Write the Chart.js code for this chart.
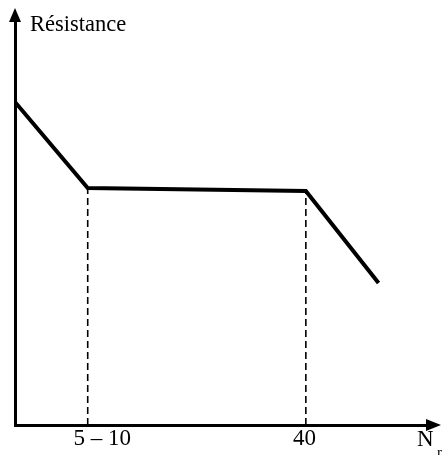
<!DOCTYPE html>
<html>
<head>
<meta charset="utf-8">
<script src="https://cdn.jsdelivr.net/npm/chart.js@4"></script>
<style>
  html, body { margin: 0; padding: 0; background: #fff; }
  #chart { display: block; }
</style>
</head>
<body>
<canvas id="chart" width="444" height="455"></canvas>
<script>
// resistance curve (arbitrary units)
const xValues = [0, 10, 40, 50];
const resistance = [3.23, 2.37, 2.34, 1.42];

// dashed guides down to the axis
const guideX = [10, 40];
const guideTop = [2.37, 2.34];

// axis labels
const tickPositions = [12, 39.8];
const tickLabels = ['5 \u2013 10', '40'];
const yTitle = 'Résistance';
const xTitle = 'N';
const xTitleSub = 'r';

const serif = '"Liberation Serif", "DejaVu Serif", serif';

const guideSets = guideX.map(function(x, i) {
    return {
        data: [{ x: x, y: 0 }, { x: x, y: guideTop[i] }],
        borderColor: '#000',
        borderWidth: 1.6,
        borderDash: [7, 4],
        pointRadius: 0,
        fill: false
    };
});

const arrowsAndText = {
    id: 'arrowsAndText',
    afterDraw: function(chart) {
        const ctx = chart.ctx;
        const area = chart.chartArea;
        const x0 = chart.scales.x.left;
        const y0 = chart.scales.x.top;
        ctx.save();
        ctx.fillStyle = '#000';
        // y arrow
        ctx.beginPath();
        ctx.moveTo(x0 - 6, area.top + 2);
        ctx.lineTo(x0 + 6, area.top + 2);
        ctx.lineTo(x0, area.top - 12);
        ctx.closePath();
        ctx.fill();
        // x arrow
        ctx.beginPath();
        ctx.moveTo(area.right - 2, y0 - 6);
        ctx.lineTo(area.right - 2, y0 + 6);
        ctx.lineTo(area.right + 13, y0);
        ctx.closePath();
        ctx.fill();

        ctx.textBaseline = 'alphabetic';
        ctx.textAlign = 'left';
        ctx.font = '22.5px ' + serif;
        ctx.fillText(yTitle, 30, 31);
        ctx.font = '23px ' + serif;
        ctx.fillText(xTitle, 417, 446);
        ctx.font = '15px ' + serif;
        ctx.fillText(xTitleSub, 437, 457);
        ctx.restore();
    }
};

new Chart(document.getElementById('chart'), {
    type: 'line',
    data: {
        datasets: [{
            data: xValues.map(function(x, i) { return { x: x, y: resistance[i] }; }),
            borderColor: '#000',
            borderWidth: 4,
            borderJoinStyle: 'miter',
            pointRadius: 0,
            fill: false,
            tension: 0
        }].concat(guideSets)
    },
    options: {
        responsive: false,
        animation: false,
        layout: { padding: { left: 15, right: 16, top: 20, bottom: 2.4 } },
        plugins: { legend: { display: false }, tooltip: { enabled: false } },
        scales: {
            x: {
                type: 'linear',
                min: 0,
                max: 56.8,
                grid: { display: false, drawTicks: false },
                border: { display: true, color: '#000', width: 3 },
                afterBuildTicks: function(scale) {
                    scale.ticks = tickPositions.map(function(v) { return { value: v }; });
                },
                ticks: {
                    color: '#000',
                    padding: 0,
                    autoSkip: false,
                    maxRotation: 0,
                    font: { family: serif, size: 23 },
                    callback: function(value, index) { return tickLabels[index]; }
                }
            },
            y: {
                min: 0,
                max: 4.05,
                grid: { display: false, drawTicks: false },
                border: { display: true, color: '#000', width: 3 },
                ticks: { display: false }
            }
        }
    },
    plugins: [arrowsAndText]
});
</script>
</body>
</html>
